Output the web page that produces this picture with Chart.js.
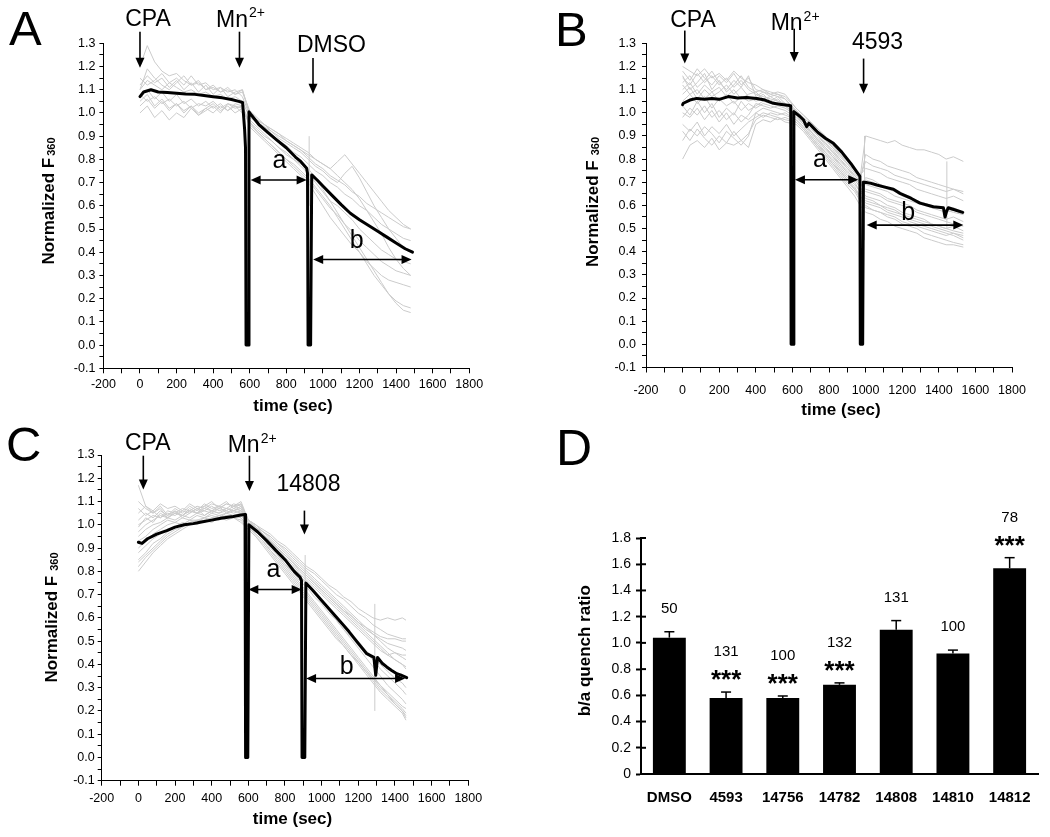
<!DOCTYPE html>
<html><head><meta charset="utf-8">
<script src="https://cdn.jsdelivr.net/npm/chart.js@4.4.1/dist/chart.umd.min.js"></script>
<style>
html,body{margin:0;padding:0;background:#fff;}
#wrap{position:relative;width:1050px;height:837px;overflow:hidden;}
canvas{position:absolute;left:0;top:0;}
</style></head><body>
<div id="wrap">
<canvas id="cA" width="1050" height="837"></canvas>
<canvas id="cB" width="1050" height="837"></canvas>
<canvas id="cC" width="1050" height="837"></canvas>
<canvas id="cD" width="1050" height="837"></canvas>
</div>
<script>
// ---------------- DATA ----------------
// Panel A (DMSO)
const timeA = [0,40,80,120,160,200,240,280,320,360,400,440,480,520,560,600,640,680,720,760,800,840,880,920,960,1000,1040,1080,1120,1160,1200,1240,1280,1320,1360,1400,1440,1480];
const tracesA = [
 [1.20,1.29,1.22,1.18,1.16,1.17,1.14,1.12,1.13,1.10,1.11,1.09,1.10,1.08,1.09,1.01,0.98,0.95,0.93,0.91,0.88,0.86,0.84,0.81,0.78,0.76,0.73,0.71,0.69,0.66,0.64,0.61,0.59,0.57,0.55,0.53,0.51,0.50],
 [1.15,1.12,1.14,1.17,1.13,1.15,1.12,1.16,1.12,1.13,1.10,1.11,1.09,1.10,1.07,0.99,0.97,0.95,0.92,0.90,0.88,0.86,0.84,0.82,0.80,0.78,0.76,0.79,0.82,0.78,0.74,0.70,0.66,0.62,0.58,0.55,0.52,0.50],
 [1.10,1.14,1.12,1.10,1.13,1.11,1.09,1.10,1.08,1.09,1.07,1.08,1.06,1.07,1.05,0.98,0.96,0.94,0.91,0.88,0.86,0.83,0.81,0.78,0.75,0.73,0.70,0.68,0.65,0.63,0.60,0.58,0.55,0.52,0.50,0.48,0.46,0.45],
 [1.08,1.05,1.07,1.04,1.06,1.03,1.05,1.02,1.04,1.03,1.05,1.02,1.04,1.03,1.02,0.96,0.93,0.90,0.88,0.85,0.82,0.80,0.77,0.74,0.70,0.66,0.62,0.60,0.57,0.54,0.50,0.47,0.44,0.41,0.39,0.37,0.36,0.35],
 [1.05,1.08,1.03,1.06,1.02,1.04,1.01,1.03,1.00,1.02,1.04,1.01,1.03,1.00,1.02,0.95,0.92,0.89,0.86,0.83,0.80,0.77,0.74,0.71,0.67,0.63,0.59,0.56,0.52,0.49,0.45,0.42,0.39,0.36,0.34,0.32,0.31,0.30],
 [1.12,1.16,1.13,1.15,1.11,1.14,1.10,1.13,1.09,1.12,1.08,1.11,1.07,1.09,1.10,1.00,0.97,0.95,0.93,0.91,0.89,0.87,0.85,0.83,0.80,0.78,0.76,0.73,0.70,0.67,0.63,0.58,0.53,0.48,0.42,0.37,0.33,0.30],
 [1.00,1.03,0.98,1.01,0.97,1.00,0.98,1.02,0.99,1.01,1.03,1.00,1.04,1.02,1.03,0.94,0.91,0.88,0.85,0.82,0.79,0.76,0.73,0.70,0.65,0.60,0.55,0.51,0.47,0.43,0.40,0.36,0.33,0.30,0.28,0.27,0.26,0.25],
 [1.03,1.06,1.02,1.05,1.01,1.04,1.00,1.03,0.99,1.02,1.00,1.03,1.01,1.04,1.03,0.96,0.92,0.89,0.86,0.83,0.80,0.78,0.75,0.72,0.68,0.64,0.60,0.55,0.50,0.45,0.40,0.35,0.30,0.26,0.22,0.19,0.17,0.16],
 [1.07,1.10,1.06,1.09,1.05,1.08,1.04,1.06,1.03,1.05,1.02,1.04,1.01,1.03,1.00,0.97,0.94,0.91,0.88,0.85,0.83,0.80,0.78,0.76,0.72,0.67,0.62,0.57,0.52,0.47,0.42,0.37,0.32,0.27,0.22,0.18,0.15,0.14],
 [1.10,1.19,1.15,1.12,1.10,1.13,1.16,1.12,1.14,1.10,1.12,1.09,1.11,1.08,1.10,0.99,0.96,0.94,0.92,0.89,0.87,0.85,0.83,0.80,0.77,0.75,0.72,0.70,0.74,0.77,0.72,0.66,0.60,0.55,0.50,0.46,0.42,0.40]
];
const meanTimeA = [0,20,60,100,150,200,250,300,350,400,450,500,540,561,572,577,580,593,596,610,650,700,747,800,850,880,911,916,919,933,939,970,1000,1050,1100,1150,1200,1250,1300,1350,1400,1450,1490];
const meanA = [1.07,1.09,1.10,1.09,1.088,1.085,1.082,1.08,1.075,1.07,1.065,1.058,1.05,1.045,0.93,0.85,0.0,0.0,1.005,0.99,0.95,0.915,0.884,0.85,0.81,0.79,0.762,0.74,0.0,0.0,0.733,0.71,0.685,0.645,0.605,0.568,0.54,0.515,0.49,0.465,0.44,0.415,0.40];
const spikesA = [[925,0.60,0.90]];

// Panel B (4593)
const timeB = [0,40,80,120,160,200,240,280,320,360,400,440,480,520,560,620,660,700,740,780,820,860,900,940,970,1000,1040,1080,1120,1160,1200,1240,1280,1320,1360,1400,1440,1480,1534];
const tracesB = [
 [1.20,1.18,1.16,1.19,1.15,1.17,1.14,1.18,1.15,1.13,1.12,1.10,1.09,1.08,1.07,1.02,0.99,0.96,0.93,0.90,0.86,0.82,0.78,0.75,0.72,0.90,0.89,0.88,0.87,0.88,0.86,0.85,0.84,0.84,0.83,0.82,0.80,0.81,0.79],
 [1.15,1.12,1.17,1.13,1.16,1.12,1.15,1.11,1.14,1.10,1.08,1.07,1.06,1.05,1.04,1.01,0.98,0.95,0.91,0.88,0.85,0.81,0.78,0.74,0.71,0.82,0.80,0.79,0.77,0.76,0.75,0.74,0.72,0.71,0.70,0.69,0.68,0.67,0.66],
 [1.10,1.13,1.08,1.12,1.09,1.11,1.07,1.10,1.06,1.08,1.09,1.06,1.07,1.05,1.04,0.99,0.96,0.92,0.88,0.85,0.81,0.78,0.74,0.71,0.68,0.72,0.71,0.69,0.68,0.66,0.65,0.64,0.62,0.61,0.60,0.59,0.58,0.57,0.56],
 [1.05,1.08,1.04,1.07,1.02,1.06,1.03,1.05,1.01,1.04,1.02,1.04,1.03,1.02,1.01,0.98,0.95,0.91,0.87,0.83,0.80,0.76,0.72,0.69,0.66,0.66,0.65,0.64,0.62,0.61,0.60,0.59,0.57,0.56,0.55,0.54,0.53,0.52,0.51],
 [1.00,0.98,1.02,0.97,1.01,0.96,1.00,0.95,0.99,0.97,1.00,1.02,1.01,1.00,0.99,0.97,0.94,0.90,0.86,0.82,0.78,0.75,0.71,0.67,0.64,0.62,0.61,0.60,0.58,0.57,0.56,0.54,0.53,0.52,0.51,0.50,0.49,0.48,0.47],
 [0.95,0.92,0.96,0.90,0.94,0.91,0.95,0.90,0.93,0.96,0.98,1.00,0.99,0.98,0.97,0.96,0.93,0.89,0.85,0.81,0.77,0.73,0.69,0.66,0.62,0.60,0.58,0.57,0.55,0.54,0.52,0.51,0.50,0.48,0.47,0.46,0.45,0.44,0.43],
 [0.80,0.86,0.88,0.85,0.89,0.84,0.87,0.86,0.88,0.85,0.95,0.97,0.96,0.98,0.96,0.95,0.92,0.88,0.84,0.80,0.76,0.72,0.68,0.64,0.60,0.57,0.56,0.54,0.53,0.51,0.50,0.49,0.48,0.46,0.45,0.44,0.43,0.43,0.42],
 [1.12,1.08,1.10,1.06,1.09,1.05,1.08,1.04,1.07,1.05,1.06,1.08,1.05,1.07,1.04,1.00,0.97,0.94,0.90,0.87,0.84,0.80,0.77,0.73,0.70,0.69,0.68,0.67,0.66,0.64,0.63,0.62,0.61,0.60,0.59,0.58,0.57,0.58,0.56],
 [0.98,1.02,0.99,1.03,0.98,1.01,0.97,1.00,0.96,0.99,1.04,1.03,1.02,1.03,1.02,0.99,0.96,0.92,0.89,0.85,0.82,0.78,0.75,0.71,0.68,0.64,0.63,0.62,0.60,0.59,0.57,0.56,0.55,0.54,0.52,0.51,0.50,0.51,0.49],
 [1.18,1.14,1.19,1.15,1.12,1.16,1.13,1.17,1.12,1.15,1.10,1.09,1.08,1.07,1.06,1.01,0.98,0.95,0.92,0.89,0.85,0.82,0.79,0.76,0.73,0.76,0.75,0.74,0.72,0.71,0.70,0.69,0.67,0.66,0.65,0.64,0.63,0.64,0.62],
 [0.92,0.88,0.93,0.89,0.86,0.90,0.87,0.92,0.88,0.91,0.97,0.99,0.98,0.97,0.98,0.96,0.93,0.89,0.85,0.82,0.78,0.74,0.70,0.67,0.63,0.59,0.58,0.57,0.56,0.55,0.53,0.52,0.51,0.50,0.49,0.48,0.47,0.48,0.46],
 [1.08,1.11,1.06,1.10,1.07,1.09,1.12,1.08,1.11,1.07,1.05,1.06,1.04,1.06,1.03,0.99,0.96,0.93,0.90,0.86,0.83,0.79,0.76,0.72,0.69,0.67,0.66,0.65,0.63,0.62,0.61,0.60,0.58,0.57,0.56,0.55,0.54,0.55,0.53],
 [1.13,1.16,1.11,1.14,1.18,1.13,1.10,1.14,1.11,1.16,1.07,1.09,1.07,1.08,1.06,1.00,0.97,0.94,0.90,0.87,0.83,0.80,0.76,0.73,0.70,0.71,0.70,0.68,0.67,0.66,0.64,0.63,0.62,0.61,0.60,0.59,0.58,0.59,0.57],
 [1.03,0.99,1.05,1.00,1.04,0.98,1.02,0.99,1.05,1.01,1.03,1.05,1.04,1.04,1.03,0.99,0.95,0.92,0.88,0.84,0.81,0.77,0.73,0.70,0.66,0.63,0.62,0.60,0.59,0.58,0.56,0.55,0.54,0.53,0.52,0.51,0.50,0.49,0.48],
 [0.88,0.93,0.90,0.94,0.91,0.87,0.92,0.89,0.86,0.90,1.00,0.98,1.00,0.99,1.00,0.97,0.94,0.90,0.86,0.83,0.79,0.75,0.71,0.68,0.64,0.61,0.60,0.59,0.57,0.56,0.55,0.53,0.52,0.51,0.50,0.49,0.48,0.47,0.45],
 [1.16,1.10,1.13,1.17,1.10,1.14,1.09,1.12,1.16,1.11,1.09,1.10,1.08,1.09,1.08,1.02,0.99,0.96,0.92,0.89,0.86,0.83,0.79,0.76,0.72,0.79,0.77,0.76,0.75,0.73,0.72,0.71,0.70,0.69,0.68,0.67,0.66,0.67,0.65]
];
const meanTimeB = [0,4,40,77,120,160,200,250,300,350,405,450,496,540,585,591,593,604,608,640,660,672,678,690,696,740,780,824,870,920,969,971,984,988,997,1030,1061,1100,1152,1188,1250,1297,1370,1425,1434,1443,1452,1490,1531];
const meanB = [1.035,1.041,1.055,1.062,1.058,1.062,1.058,1.07,1.064,1.066,1.062,1.055,1.041,1.036,1.031,1.03,0.0,0.0,1.005,0.985,0.97,0.95,0.94,0.955,0.95,0.915,0.89,0.868,0.83,0.78,0.725,0.0,0.0,0.70,0.70,0.695,0.688,0.68,0.67,0.652,0.63,0.61,0.594,0.59,0.55,0.575,0.59,0.58,0.57];
const spikesB = [[994,0.45,0.90],[1444,0.50,0.79]];

// Panel C (14808)
const timeC = [0,40,80,120,160,200,240,280,320,360,400,440,480,520,560,600,640,680,720,760,800,840,880,920,960,1000,1040,1080,1120,1160,1200,1240,1280,1320,1360,1400,1440,1460];
const tracesC = [
 [0.80,0.84,0.88,0.91,0.94,0.96,0.98,1.00,1.01,1.02,1.03,1.03,1.04,1.04,1.04,1.00,0.97,0.94,0.91,0.87,0.83,0.79,0.75,0.71,0.67,0.63,0.59,0.55,0.51,0.47,0.43,0.39,0.35,0.31,0.27,0.23,0.20,0.18],
 [0.85,0.88,0.92,0.94,0.97,0.99,1.00,1.02,1.02,1.03,1.04,1.03,1.05,1.04,1.05,1.01,0.98,0.95,0.92,0.89,0.85,0.82,0.78,0.75,0.71,0.67,0.63,0.59,0.55,0.51,0.47,0.43,0.39,0.35,0.31,0.28,0.25,0.23],
 [0.95,0.98,1.00,1.01,1.03,1.02,1.04,1.03,1.05,1.04,1.06,1.05,1.06,1.05,1.06,1.01,0.99,0.96,0.93,0.90,0.87,0.84,0.81,0.78,0.75,0.72,0.69,0.66,0.63,0.60,0.57,0.54,0.51,0.48,0.45,0.42,0.40,0.38],
 [1.05,1.08,1.06,1.09,1.07,1.08,1.06,1.09,1.07,1.08,1.10,1.07,1.09,1.08,1.10,1.02,1.00,0.98,0.96,0.93,0.91,0.88,0.85,0.82,0.80,0.77,0.74,0.72,0.69,0.67,0.64,0.62,0.60,0.59,0.60,0.59,0.60,0.59],
 [1.10,1.07,1.05,1.08,1.04,1.06,1.03,1.05,1.07,1.04,1.06,1.08,1.05,1.07,1.06,1.01,0.98,0.96,0.93,0.90,0.87,0.84,0.81,0.78,0.75,0.72,0.69,0.66,0.63,0.61,0.58,0.56,0.54,0.52,0.51,0.51,0.50,0.50],
 [0.90,0.93,0.96,0.98,1.00,1.01,1.00,1.02,1.01,1.03,1.02,1.04,1.03,1.04,1.03,0.99,0.96,0.93,0.89,0.85,0.81,0.77,0.73,0.69,0.65,0.61,0.57,0.53,0.49,0.45,0.41,0.37,0.33,0.29,0.26,0.23,0.20,0.17],
 [1.00,1.02,1.04,1.03,1.05,1.04,1.06,1.05,1.07,1.06,1.05,1.07,1.06,1.08,1.07,1.01,0.99,0.96,0.93,0.90,0.87,0.84,0.80,0.77,0.74,0.71,0.68,0.65,0.62,0.59,0.56,0.53,0.50,0.47,0.44,0.42,0.40,0.39],
 [1.17,1.08,1.05,1.07,1.03,1.05,1.04,1.06,1.05,1.07,1.06,1.05,1.07,1.06,1.08,1.02,1.00,0.97,0.95,0.92,0.89,0.86,0.83,0.80,0.77,0.74,0.71,0.68,0.65,0.62,0.59,0.56,0.53,0.50,0.47,0.45,0.43,0.42],
 [0.88,0.91,0.94,0.96,0.98,0.99,1.01,1.00,1.02,1.01,1.03,1.02,1.04,1.03,1.02,0.98,0.95,0.91,0.87,0.83,0.79,0.75,0.71,0.67,0.63,0.59,0.55,0.51,0.48,0.44,0.41,0.37,0.34,0.31,0.28,0.25,0.22,0.21],
 [1.02,1.05,1.03,1.06,1.04,1.07,1.05,1.08,1.06,1.09,1.07,1.08,1.10,1.07,1.09,1.02,1.00,0.97,0.95,0.92,0.90,0.87,0.84,0.81,0.79,0.76,0.73,0.70,0.68,0.65,0.62,0.60,0.57,0.55,0.53,0.52,0.51,0.51],
 [0.82,0.86,0.89,0.92,0.95,0.97,0.99,1.01,1.00,1.02,1.01,1.03,1.02,1.03,1.01,0.98,0.95,0.92,0.88,0.84,0.80,0.76,0.72,0.68,0.64,0.60,0.56,0.52,0.48,0.44,0.40,0.36,0.32,0.28,0.25,0.22,0.19,0.16],
 [0.97,1.00,1.02,1.04,1.03,1.05,1.04,1.06,1.05,1.06,1.08,1.06,1.07,1.06,1.07,1.01,0.98,0.95,0.92,0.88,0.85,0.81,0.78,0.74,0.71,0.67,0.64,0.60,0.57,0.53,0.50,0.46,0.43,0.40,0.37,0.34,0.32,0.30],
 [0.93,0.95,0.98,1.00,1.02,1.01,1.03,1.02,1.04,1.03,1.05,1.04,1.05,1.06,1.05,1.00,0.97,0.94,0.90,0.87,0.83,0.80,0.76,0.73,0.69,0.66,0.62,0.59,0.55,0.52,0.48,0.45,0.42,0.38,0.35,0.32,0.29,0.27],
 [1.07,1.04,1.06,1.03,1.06,1.05,1.07,1.06,1.08,1.07,1.09,1.08,1.07,1.09,1.08,1.02,0.99,0.97,0.94,0.91,0.88,0.85,0.82,0.79,0.76,0.73,0.70,0.67,0.64,0.61,0.58,0.55,0.53,0.51,0.49,0.48,0.47,0.46],
 [0.84,0.87,0.90,0.93,0.96,0.98,0.99,1.01,1.02,1.01,1.03,1.04,1.03,1.04,1.03,0.99,0.96,0.93,0.89,0.86,0.82,0.78,0.74,0.70,0.66,0.62,0.58,0.54,0.50,0.46,0.42,0.38,0.34,0.30,0.27,0.24,0.21,0.19],
 [0.99,1.03,1.01,1.05,1.03,1.06,1.04,1.07,1.05,1.08,1.06,1.07,1.09,1.08,1.09,1.02,0.99,0.96,0.93,0.90,0.86,0.83,0.79,0.76,0.73,0.70,0.67,0.64,0.61,0.58,0.55,0.52,0.49,0.46,0.44,0.45,0.44,0.44]
];
const meanTimeC = [0,20,50,100,155,200,250,300,337,400,450,518,560,582,585,597,603,650,700,750,800,850,882,890,893,908,914,950,1000,1064,1100,1150,1200,1246,1285,1295,1305,1330,1355,1380,1410,1430,1464];
const meanC = [0.925,0.92,0.94,0.96,0.975,0.99,1.0,1.005,1.011,1.02,1.028,1.036,1.042,1.044,0.0,0.0,1.0,0.97,0.932,0.89,0.85,0.80,0.775,0.76,0.0,0.0,0.75,0.72,0.675,0.618,0.585,0.54,0.49,0.446,0.43,0.353,0.43,0.405,0.389,0.375,0.36,0.355,0.343];
const spikesC = [[910,0.62,0.87],[1290,0.20,0.66]];

// Panel D
const dCategories = ['DMSO','4593','14756','14782','14808','14810','14812'];
const dValues = [1.04,0.58,0.58,0.68,1.10,0.92,1.57];
const dErrors = [0.045,0.045,0.015,0.015,0.07,0.025,0.08];
const dCounts = ['50','131','100','132','131','100','78'];
const dSignif = ['','***','***','***','','','***'];

// ---------------- RENDERING ----------------
const FONT = '"Liberation Sans", Arial, Helvetica, sans-serif';
Chart.defaults.font.family = FONT;
Chart.defaults.color = '#000';

function arrowDown(ctx, x, y1, y2) {
  ctx.lineWidth = 1.6;
  ctx.beginPath(); ctx.moveTo(x, y1); ctx.lineTo(x, y2 - 8); ctx.stroke();
  ctx.beginPath(); ctx.moveTo(x - 4.5, y2 - 10); ctx.lineTo(x + 4.5, y2 - 10); ctx.lineTo(x, y2); ctx.closePath(); ctx.fill();
}
function arrowBoth(ctx, x1, x2, y) {
  ctx.lineWidth = 1.6;
  ctx.beginPath(); ctx.moveTo(x1 + 8, y); ctx.lineTo(x2 - 8, y); ctx.stroke();
  ctx.beginPath(); ctx.moveTo(x1, y); ctx.lineTo(x1 + 10, y - 4.5); ctx.lineTo(x1 + 10, y + 4.5); ctx.closePath(); ctx.fill();
  ctx.beginPath(); ctx.moveTo(x2, y); ctx.lineTo(x2 - 10, y - 4.5); ctx.lineTo(x2 - 10, y + 4.5); ctx.closePath(); ctx.fill();
}
function labelWithSup(ctx, main, sup, cx, base, size) {
  ctx.font = size + 'px ' + FONT;
  const w1 = ctx.measureText(main).width;
  ctx.font = Math.round(size * 0.62) + 'px ' + FONT;
  const w2 = sup ? ctx.measureText(sup).width : 0;
  const x0 = cx - (w1 + w2) / 2;
  ctx.textAlign = 'left'; ctx.textBaseline = 'alphabetic';
  ctx.font = size + 'px ' + FONT;
  ctx.fillText(main, x0, base);
  if (sup) { ctx.font = Math.round(size * 0.62) + 'px ' + FONT; ctx.fillText(sup, x0 + w1 + 1, base - size * 0.42); }
}
function yTitle(ctx, cx, cy, main, sub, size) {
  ctx.save();
  ctx.translate(cx, cy); ctx.rotate(-Math.PI / 2);
  ctx.font = 'bold ' + size + 'px ' + FONT;
  const w1 = ctx.measureText(main).width;
  const subSize = Math.round(size * 0.62);
  ctx.font = 'bold ' + subSize + 'px ' + FONT;
  const w2 = sub ? ctx.measureText(sub).width : 0;
  const x0 = -(w1 + w2 + 2) / 2;
  ctx.textAlign = 'left'; ctx.textBaseline = 'alphabetic';
  const base = size * 0.36;
  ctx.font = 'bold ' + size + 'px ' + FONT;
  ctx.fillText(main, x0, base);
  if (sub) { ctx.font = 'bold ' + subSize + 'px ' + FONT; ctx.fillText(sub, x0 + w1 + 2, base + 1); }
  ctx.restore();
}

function annPlugin(ann) {
  return {
    id: 'ann',
    afterDraw(chart) {
      const ctx = chart.ctx, xs = chart.scales.x, ys = chart.scales.y;
      const X = v => xs.getPixelForValue(v), Y = v => ys.getPixelForValue(v);
      ctx.save();
      ctx.fillStyle = '#000'; ctx.strokeStyle = '#000';
      ctx.textAlign = 'left'; ctx.textBaseline = 'alphabetic';
      ctx.font = '49px ' + FONT;
      ctx.fillText(ann.letter[0], ann.letter[1], ann.letter[2]);
      yTitle(ctx, ann.ytitle[0], ann.ytitle[1], 'Normalized F', ann.sub, 17);
      ctx.font = 'bold 17px ' + FONT; ctx.textAlign = 'center'; ctx.textBaseline = 'middle';
      ctx.fillText('time (sec)', ann.xtitle[0], ann.xtitle[1]);
      ann.labels.forEach(l => labelWithSup(ctx, l.t, l.sup, X(l.x), Y(l.y), 23));
      ann.arrows.forEach(a => arrowDown(ctx, X(a.x), Y(a.y1), Y(a.y2)));
      ann.spans.forEach(s => arrowBoth(ctx, X(s.x1), X(s.x2), Y(s.y)));
      ctx.font = '25px ' + FONT; ctx.textAlign = 'center'; ctx.textBaseline = 'alphabetic';
      ann.letters.forEach(l => ctx.fillText(l.t, X(l.x), Y(l.y)));
      ctx.restore();
    }
  };
}

function makeTrace(id, o) {
  const ds = [];
  ds.push({ data: o.mt.map((t, i) => ({ x: t, y: o.mv[i] })), borderColor: '#000', borderWidth: 3,
    pointRadius: 0, order: 0, borderJoinStyle: 'round', borderCapStyle: 'round', tension: 0, fill: false });
  o.traces.forEach(tr => ds.push({ data: o.t.map((t, i) => ({ x: t, y: tr[i] })), borderColor: '#cbcbcb',
    borderWidth: 1, pointRadius: 0, order: 1, tension: 0, fill: false }));
  o.spikes.forEach(s => ds.push({ data: [{ x: s[0], y: s[1] }, { x: s[0], y: s[2] }], borderColor: '#cbcbcb',
    borderWidth: 1, pointRadius: 0, order: 1, fill: false }));
  const a = o.area;
  new Chart(document.getElementById(id), {
    type: 'line',
    data: { datasets: ds },
    options: {
      responsive: false, animation: false, events: [],
      plugins: { legend: { display: false }, tooltip: { enabled: false } },
      layout: { padding: { left: a.left - 40, top: a.top, right: 1050 - a.right, bottom: 837 - a.bottom - 40 } },
      scales: {
        x: {
          type: 'linear', min: -200, max: 1800,
          afterFit: s => { s.height = 40; },
          ticks: { stepSize: 100, autoSkip: false, maxRotation: 0, padding: o.xpad, color: '#000', font: { size: 12.5 },
            callback: v => (Math.round(v) % 200 === 0 ? String(Math.round(v)) : '') },
          grid: { drawOnChartArea: false, tickLength: 5, tickColor: '#000', color: '#000' },
          border: { color: '#000', width: 1 }
        },
        y: {
          min: -0.1, max: 1.3,
          afterFit: s => { s.width = 40; },
          ticks: { stepSize: 0.05, autoSkip: false, padding: o.ypad, color: '#000', font: { size: 12.5 },
            callback: v => { const k = Math.round(v * 100); return k % 10 === 0 ? (k / 100).toFixed(1) : ''; } },
          grid: { drawOnChartArea: false, tickLength: 4, tickColor: '#000', color: '#000' },
          border: { color: '#000', width: 1 }
        }
      }
    },
    plugins: [annPlugin(o.ann)]
  });
}

makeTrace('cA', {
  t: timeA, traces: tracesA, mt: meanTimeA, mv: meanA, spikes: spikesA,
  area: { left: 103.4, top: 43.3, right: 469.2, bottom: 368.3 }, xpad: 4, ypad: 4,
  ann: {
    letter: ['A', 9, 45], ytitle: [47.5, 201], sub: '360', xtitle: [293, 406],
    labels: [{ t: 'CPA', x: 44, y: 1.375 }, { t: 'Mn', sup: '2+', x: 547, y: 1.372 }, { t: 'DMSO', x: 1047, y: 1.264 }],
    arrows: [{ x: 0, y1: 1.35, y2: 1.195 }, { x: 544, y1: 1.35, y2: 1.195 }, { x: 946, y1: 1.237, y2: 1.083 }],
    spans: [{ x1: 605, x2: 911, y: 0.711 }, { x1: 947, x2: 1485, y: 0.369 }],
    letters: [{ t: 'a', x: 762, y: 0.762 }, { t: 'b', x: 1185, y: 0.417 }]
  }
});

makeTrace('cB', {
  t: timeB, traces: tracesB, mt: meanTimeB, mv: meanB, spikes: spikesB,
  area: { left: 646, top: 43.3, right: 1012, bottom: 367.5 }, xpad: 11, ypad: 6,
  ann: {
    letter: ['B', 555, 45.5], ytitle: [592, 202], sub: ' 360', xtitle: [841, 410],
    labels: [{ t: 'CPA', x: 57, y: 1.37 }, { t: 'Mn', sup: '2+', x: 612, y: 1.356 }, { t: '4593', x: 1065, y: 1.275 }],
    arrows: [{ x: 12, y1: 1.355, y2: 1.213 }, { x: 610, y1: 1.363, y2: 1.219 }, { x: 989, y1: 1.234, y2: 1.082 }],
    spans: [{ x1: 614, x2: 960, y: 0.711 }, { x1: 1006, x2: 1534, y: 0.515 }],
    letters: [{ t: 'a', x: 751, y: 0.767 }, { t: 'b', x: 1233, y: 0.537 }]
  }
});

makeTrace('cC', {
  t: timeC, traces: tracesC, mt: meanTimeC, mv: meanC, spikes: spikesC,
  area: { left: 101.7, top: 455, right: 468.3, bottom: 780.7 }, xpad: 5, ypad: 3,
  ann: {
    letter: ['C', 6, 461], ytitle: [50.7, 617.5], sub: ' 360', xtitle: [292.5, 819],
    labels: [{ t: 'CPA', x: 51, y: 1.322 }, { t: 'Mn', sup: '2+', x: 618, y: 1.312 }, { t: '14808', x: 928, y: 1.147 }],
    arrows: [{ x: 27, y1: 1.297, y2: 1.152 }, { x: 606, y1: 1.297, y2: 1.145 }, { x: 906, y1: 1.061, y2: 0.958 }],
    spans: [{ x1: 600, x2: 891, y: 0.722 }, { x1: 915, x2: 1455, y: 0.339 }],
    letters: [{ t: 'a', x: 737, y: 0.775 }, { t: 'b', x: 1137, y: 0.36 }]
  }
});

// Panel D bar chart
const dPlugin = {
  id: 'dann',
  afterDraw(chart) {
    const ctx = chart.ctx, ys = chart.scales.y, area = chart.chartArea;
    const meta = chart.getDatasetMeta(0);
    ctx.save();
    ctx.fillStyle = '#000'; ctx.strokeStyle = '#000';
    ctx.lineWidth = 2;
    ys.ticks.forEach(t => { const py = ys.getPixelForValue(t.value); ctx.beginPath(); ctx.moveTo(area.left, py); ctx.lineTo(area.left + 5, py); ctx.stroke(); });
    dValues.forEach((v, i) => {
      const x = meta.data[i].x;
      const yb = ys.getPixelForValue(v), yt = ys.getPixelForValue(v + dErrors[i]);
      ctx.lineWidth = 1.5;
      ctx.beginPath(); ctx.moveTo(x, yb); ctx.lineTo(x, yt); ctx.stroke();
      ctx.beginPath(); ctx.moveTo(x - 5, yt); ctx.lineTo(x + 5, yt); ctx.stroke();
      ctx.textAlign = 'center';
      if (dSignif[i]) {
        ctx.font = 'bold 26px ' + FONT; ctx.textBaseline = 'alphabetic';
        ctx.fillText(dSignif[i], x, yt - 19 + 15);
      }
      ctx.font = '15px ' + FONT; ctx.textBaseline = 'middle';
      ctx.fillText(dCounts[i], x, yt - (dSignif[i] ? 40 : 23));
    });
    ctx.textAlign = 'left'; ctx.textBaseline = 'alphabetic';
    ctx.font = '50px ' + FONT;
    ctx.fillText('D', 556, 465);
    ctx.save();
    ctx.translate(585.5, 650.7); ctx.rotate(-Math.PI / 2);
    ctx.font = 'bold 17px ' + FONT; ctx.textAlign = 'center'; ctx.textBaseline = 'middle';
    ctx.fillText('b/a quench ratio', 0, 0);
    ctx.restore();
    ctx.restore();
  }
};
const dArea = { left: 641, top: 538, right: 1038, bottom: 774 };
new Chart(document.getElementById('cD'), {
  type: 'bar',
  data: { labels: dCategories, datasets: [{ data: dValues, backgroundColor: '#000', borderWidth: 0, barPercentage: 0.58, categoryPercentage: 1.0 }] },
  options: {
    responsive: false, animation: false, events: [],
    plugins: { legend: { display: false }, tooltip: { enabled: false } },
    layout: { padding: { left: dArea.left - 40, top: dArea.top, right: 1050 - dArea.right, bottom: 837 - dArea.bottom - 40 } },
    scales: {
      x: {
        afterFit: s => { s.height = 40; },
        ticks: { padding: 15, color: '#000', font: { size: 15, weight: 'bold' }, maxRotation: 0, autoSkip: false },
        grid: { display: true, drawOnChartArea: false, drawTicks: false, color: 'rgba(0,0,0,0)' },
        border: { color: '#000', width: 2 }
      },
      y: {
        min: 0, max: 1.8,
        afterFit: s => { s.width = 40; },
        ticks: { stepSize: 0.2, padding: 5, color: '#000', font: { size: 14 },
          callback: v => { const k = Math.round(v * 10); return k === 0 ? '0' : (k / 10).toFixed(1); } },
        grid: { drawOnChartArea: false, tickLength: 5, tickWidth: 2, tickColor: '#000', color: '#000' },
        border: { color: '#000', width: 2 }
      }
    }
  },
  plugins: [dPlugin]
});
</script>
</body></html>
